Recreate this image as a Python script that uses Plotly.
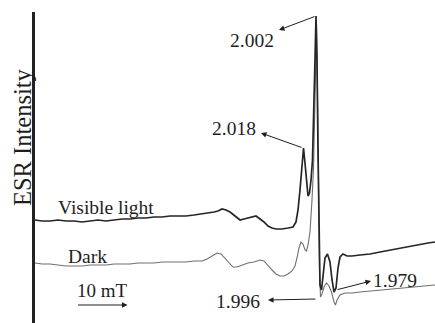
import plotly.graph_objects as go

# Magnetic field (mT) and ESR intensity (arb. units)
field_visible = [280.00, 281.37, 282.94, 284.51, 286.08, 287.65, 289.22, 290.78, 292.35, 293.92,
                 295.49, 297.06, 298.63, 300.20, 301.76, 303.33, 304.90, 306.47, 308.04, 309.61,
                 311.18, 312.75, 313.92, 315.10, 315.88, 316.67, 317.45, 318.24, 319.22, 320.20,
                 320.98, 321.76, 322.55, 323.33, 324.12, 324.90, 325.69, 326.47, 327.25, 328.43,
                 329.61, 330.59, 331.18, 331.57, 331.96, 332.35, 332.65, 332.94, 333.24, 333.53,
                 333.82, 334.12, 334.41, 334.71, 334.90, 335.10, 335.29, 335.49, 335.69, 335.88,
                 336.18, 336.47, 336.86, 337.35, 337.84, 338.24, 338.63, 339.02, 339.41, 339.80,
                 340.39, 341.18, 342.16, 343.73, 345.69, 347.65, 349.61, 351.57, 353.53, 355.49,
                 357.06, 358.43]
intensity_visible = [103, 102, 102, 103, 102, 102, 101, 102, 103, 102,
                     103, 104, 104, 105, 105, 106, 106, 107, 107, 107,
                     108, 109, 110, 111, 112, 114, 113, 111, 107, 103,
                     104, 105, 106, 107, 104, 101, 97, 95, 94, 94,
                     95, 96, 101, 113, 133, 163, 175, 160, 138, 127,
                     130, 143, 163, 213, 263, 307, 263, 173, 93, 38,
                     33, 48, 65, 69, 61, 43, 31, 35, 55, 66,
                     69, 67, 67, 68, 69, 71, 73, 75, 77, 79,
                     80, 81]

field_dark = [280.00, 281.37, 282.94, 284.51, 286.08, 287.65, 289.22, 290.78, 292.35, 293.92,
              295.49, 297.06, 298.63, 300.20, 301.76, 303.33, 304.90, 306.47, 308.04, 309.61,
              311.18, 312.75, 313.73, 314.71, 315.69, 316.47, 317.25, 318.04, 318.82, 319.61,
              320.59, 321.76, 322.94, 324.12, 324.90, 325.69, 326.47, 327.25, 328.04, 328.82,
              329.61, 330.39, 330.98, 331.37, 331.76, 332.16, 332.55, 332.94, 333.24, 333.53,
              333.92, 334.31, 334.61, 334.90, 335.20, 335.39, 335.59, 335.78, 335.98, 336.27,
              336.67, 337.16, 337.65, 338.14, 338.63, 338.92, 339.22, 339.80, 340.78, 342.16,
              343.73, 345.69, 347.65, 349.61, 351.57, 353.53, 355.49, 357.06, 358.43]
intensity_dark = [60, 59, 59, 58, 57, 57, 57, 58, 58, 58,
                  59, 59, 59, 60, 60, 60, 61, 61, 61, 61,
                  62, 62, 64, 67, 70, 69, 65, 60, 56, 56,
                  58, 60, 61, 63, 62, 58, 53, 49, 47, 47,
                  49, 52, 57, 65, 75, 81, 79, 73, 72, 78,
                  91, 123, 155, 223, 299, 233, 123, 53, 26, 29,
                  36, 40, 37, 31, 21, 18, 23, 28, 30, 30,
                  31, 32, 33, 34, 35, 36, 37, 38, 38]

g_labels = ["2.002", "2.018", "1.996", "1.979"]
g_text_pos = [(322.55, 283), (319.02, 195), (319.80, 22), (350.60, 43)]
g_arrow_tail = [(335.10, 307), (332.55, 175), (335.29, 24), (339.02, 33)]
g_arrow_head = [(327.84, 293), (324.31, 190), (325.69, 23), (345.88, 42)]

serif = "Liberation Serif, Times New Roman, serif"
ink = "#1e1e1e"

fig = go.Figure()
fig.add_trace(go.Scatter(x=field_dark, y=intensity_dark, mode="lines",
                         line=dict(color="#6e6e6e", width=1.1), hoverinfo="skip"))
fig.add_trace(go.Scatter(x=field_visible, y=intensity_visible, mode="lines",
                         line=dict(color="#262626", width=1.7), hoverinfo="skip"))

anns = []
for lab, (tx, ty) in zip(g_labels, g_text_pos):
    anns.append(dict(x=tx, y=ty, xref="x", yref="y", text=lab, showarrow=False,
                     font=dict(family=serif, size=19.5, color=ink)))
for (hx, hy), (tx, ty) in zip(g_arrow_head, g_arrow_tail):
    anns.append(dict(x=hx, y=hy, ax=tx, ay=ty, xref="x", yref="y", axref="x", ayref="y",
                     text="", showarrow=True, arrowhead=2, arrowsize=1.1, arrowwidth=1,
                     arrowcolor=ink, standoff=0, startstandoff=0))

anns += [
    dict(x=293.92, y=116, xref="x", yref="y", text="Visible light", showarrow=False,
         font=dict(family=serif, size=19.5, color=ink)),
    dict(x=290.39, y=67, xref="x", yref="y", text="Dark", showarrow=False,
         font=dict(family=serif, size=19.5, color=ink)),
    dict(x=293.14, y=33, xref="x", yref="y", text="10 mT", showarrow=False,
         font=dict(family=serif, size=19, color=ink)),
    dict(x=298.14, y=18, ax=288.14, ay=18, xref="x", yref="y", axref="x", ayref="y",
         text="", showarrow=True, arrowhead=2, arrowsize=1.1, arrowwidth=1,
         arrowcolor=ink, standoff=0, startstandoff=0),
    dict(x=-0.0325, y=186, xref="paper", yref="y", xanchor="center", yanchor="middle",
         text="ESR Intensity", showarrow=False,
         textangle=-90, font=dict(family=serif, size=24.5, color=ink)),
]

fig.update_layout(
    width=435, height=323,
    margin=dict(l=35, r=0, t=12, b=0),
    paper_bgcolor="white", plot_bgcolor="white",
    showlegend=False,
    annotations=anns,
    xaxis=dict(range=[280, 358.43], visible=False, fixedrange=True),
    yaxis=dict(range=[0, 311], showline=True, linecolor="#222", linewidth=2.5,
               showgrid=False, zeroline=False, showticklabels=False, ticks="",
               fixedrange=True),
)

fig.write_html("out.html", config={"displayModeBar": False})
